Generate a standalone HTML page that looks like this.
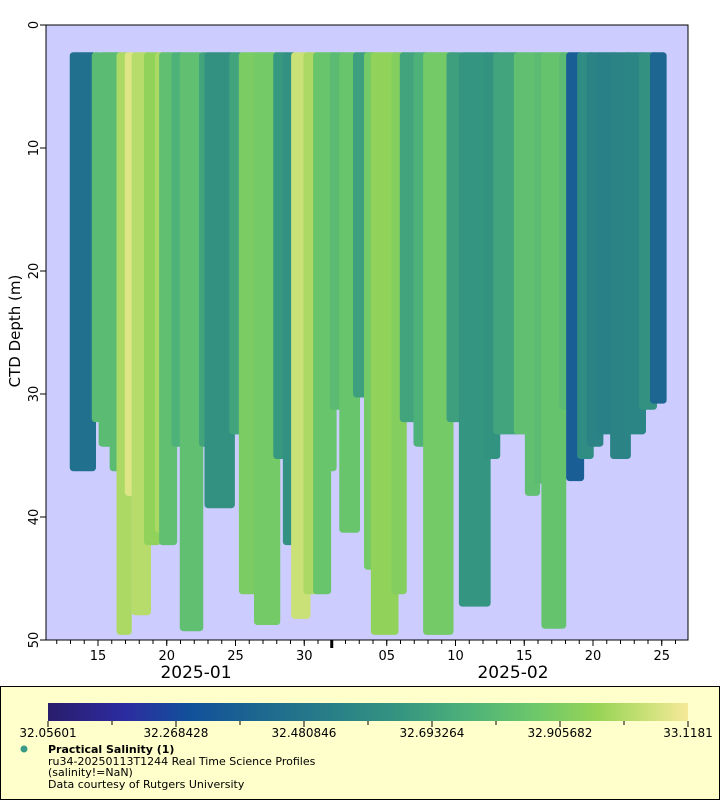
<!DOCTYPE html>
<html><head><meta charset="utf-8"><style>
html,body{margin:0;padding:0;background:#fff;}
body{width:720px;height:800px;overflow:hidden;font-family:"DejaVu Sans","Liberation Sans",sans-serif;}
</style></head><body>
<svg id="chart" width="720" height="800" xmlns="http://www.w3.org/2000/svg" style="position:absolute;left:0;top:0">
<defs>
<linearGradient id="cmap" x1="0" x2="1" y1="0" y2="0">
<stop offset="0" stop-color="#2a1d6c"/><stop offset="0.12" stop-color="#2c2ca0"/><stop offset="0.22" stop-color="#12509a"/>
<stop offset="0.4" stop-color="#24768a"/><stop offset="0.55" stop-color="#349580"/><stop offset="0.65" stop-color="#4cb07a"/>
<stop offset="0.76" stop-color="#6cc86a"/><stop offset="0.86" stop-color="#98d456"/><stop offset="0.94" stop-color="#cde27a"/><stop offset="1" stop-color="#f6e99a"/>
</linearGradient>
<clipPath id="plotclip"><rect x="46" y="25" width="642" height="615"/></clipPath>
</defs>
<rect x="46" y="25" width="642" height="615" fill="#ccccff"/>
<g id="marks" clip-path="url(#plotclip)"></g>
<g id="axes"></g>
<text transform="translate(20,331) rotate(-90)" text-anchor="middle" font-size="15" fill="#000">CTD Depth (m)</text>
<text x="196" y="678" text-anchor="middle" font-size="17">2025-01</text>
<text x="513" y="678" text-anchor="middle" font-size="17">2025-02</text>
<rect x="0.5" y="686.5" width="719" height="113" fill="#ffffcc" stroke="#000"/>
<rect x="48" y="703" width="640" height="18" fill="url(#cmap)"/>
<g id="cbticks"></g>
<circle cx="24" cy="749" r="3.5" fill="#3a9a88"/>
<text x="48" y="753" font-size="11" font-weight="bold">Practical Salinity (1)</text>
<text x="48" y="765" font-size="11">ru34-20250113T1244 Real Time Science Profiles</text>
<text x="48" y="776" font-size="11">(salinity!=NaN)</text>
<text x="48" y="788" font-size="11">Data courtesy of Rutgers University</text>
</svg>
<script>
// profile groups: start day, end day (days of Jan 2025; 32 = Feb 1), max depth (m), salinity
const groupStart=[13.2,14.8,15.3,16.1,16.6,17.2,17.7,18.6,19.4,19.7,20.6,21.2,22.6,23.0,24.8,25.5,26.6,28.0,28.7,29.3,30.2,30.9,31.7,32.1,32.8,33.8,34.6,35.1,36.6,37.2,38.2,38.9,40.6,41.5,43.3,44.0,45.5,46.3,47.0,47.5,48.8,49.3,50.1,50.8,51.5,52.5,53.5,54.6,55.4];
const groupEnd=[14.6,15.1,16.0,16.5,17.2,17.5,18.6,19.3,19.7,20.5,21.1,22.4,22.9,24.7,25.3,26.6,28.0,28.7,29.2,30.2,30.9,31.7,32.1,32.8,33.8,34.6,35.1,36.6,37.2,38.1,38.9,40.6,41.3,43.3,44.0,45.5,46.2,46.9,47.4,48.8,49.3,50.1,50.8,51.5,52.5,53.5,54.6,55.4,56.1];
const maxDepth=[36,32,34,36,49.3,38,47.7,42,41,42,34,49,34,39,33,46,48.5,35,42,48,46,46,36,31,41,30,44,49.3,46,32,34,49.3,32,47,35,33,33,38,37,48.8,31,36.8,35,34,33,35,33,31,30.5];
const salinity=[32.45,32.8,32.8,32.8,33.0,33.08,33.02,32.95,33.0,32.82,32.75,32.82,32.7,32.62,32.7,32.9,32.88,32.65,32.62,33.05,33.0,32.85,32.85,32.8,32.85,32.68,32.88,32.95,32.92,32.7,32.75,32.88,32.68,32.64,32.63,32.7,32.82,32.82,32.8,32.84,32.8,32.36,32.6,32.55,32.53,32.55,32.56,32.62,32.4];
const yTicks=[0,10,20,30,40,50];
const xTickDays=[15,20,25,30,36,41,46,51,56];
const xTickLabels=["15","20","25","30","05","10","15","20","25"];
const cbTickLabels=["32.05601","32.268428","32.480846","32.693264","32.905682","33.1181"];
const cbMin=32.05601, cbMax=33.1181, topDepth=2.5;

const NS="http://www.w3.org/2000/svg";
function X(d){return 98+(d-15)*13.75;}
function Y(m){return 25+m*12.3;}
const stops=[[0,[42,29,108]],[0.12,[44,44,160]],[0.22,[18,80,154]],[0.4,[36,118,138]],[0.55,[52,149,128]],[0.65,[76,176,122]],[0.76,[108,200,106]],[0.86,[152,212,86]],[0.94,[205,226,122]],[1,[246,233,154]]];
function color(s){let t=Math.max(0,Math.min(1,(s-cbMin)/(cbMax-cbMin)));
 for(let i=1;i<stops.length;i++){if(t<=stops[i][0]){const a=stops[i-1],b=stops[i];const f=(t-a[0])/(b[0]-a[0]);
 return 'rgb('+a[1].map((v,k)=>Math.round(v+(b[1][k]-v)*f)).join(',')+')';}} return 'rgb(246,233,154)';}
function mk(tag,attrs,parent){const e=document.createElementNS(NS,tag);for(const k in attrs)e.setAttribute(k,attrs[k]);parent.appendChild(e);return e;}

const marks=document.getElementById('marks');
for(let i=0;i<groupStart.length;i++){
 const x0=X(groupStart[i])-3.5,x1=X(groupEnd[i])+3.5,y0=Y(topDepth)-3.5,y1=Y(maxDepth[i])+3.5;
 const r=mk('rect',{x:x0,y:y0,width:x1-x0,height:y1-y0,rx:3.5,fill:color(salinity[i])},marks);
 
 
}
const axes=document.getElementById('axes');
const frame=mk('rect',{x:46,y:25,width:642,height:615,fill:'none',stroke:'#000','stroke-width':1},axes);


yTicks.forEach(v=>{
 mk('line',{x1:40,x2:46,y1:Y(v),y2:Y(v),stroke:'#000'},axes);
 const t=mk('text',{transform:'translate(38,'+Y(v)+') rotate(-90)','text-anchor':'middle','font-size':13},axes);
 t.textContent=v;
 
 
});
for(let d=12;d<=57;d++){const x=X(d);if(x<46||x>688)continue;mk('line',{x1:x,x2:x,y1:640,y2:644,stroke:'#000'},axes);}
xTickDays.forEach((d,i)=>{
 mk('line',{x1:X(d),x2:X(d),y1:640,y2:646,stroke:'#000'},axes);
 const t=mk('text',{x:X(d),y:660,'text-anchor':'middle','font-size':13},axes);
 t.textContent=xTickLabels[i];
 
 
});
mk('line',{x1:X(32),x2:X(32),y1:640,y2:648,stroke:'#000','stroke-width':3},axes);
const cb=document.getElementById('cbticks');
for(let i=0;i<=10;i++){const x=48+i*64;mk('line',{x1:x,x2:x,y1:721,y2:i%2?725:727,stroke:'#000'},cb);}
cbTickLabels.forEach((s,i)=>{
 const x=48+i*128;
 const t=mk('text',{x:x,y:737,'text-anchor':'middle','font-size':12},cb);
 t.textContent=s;
 
 
});
</script>
</body></html>
